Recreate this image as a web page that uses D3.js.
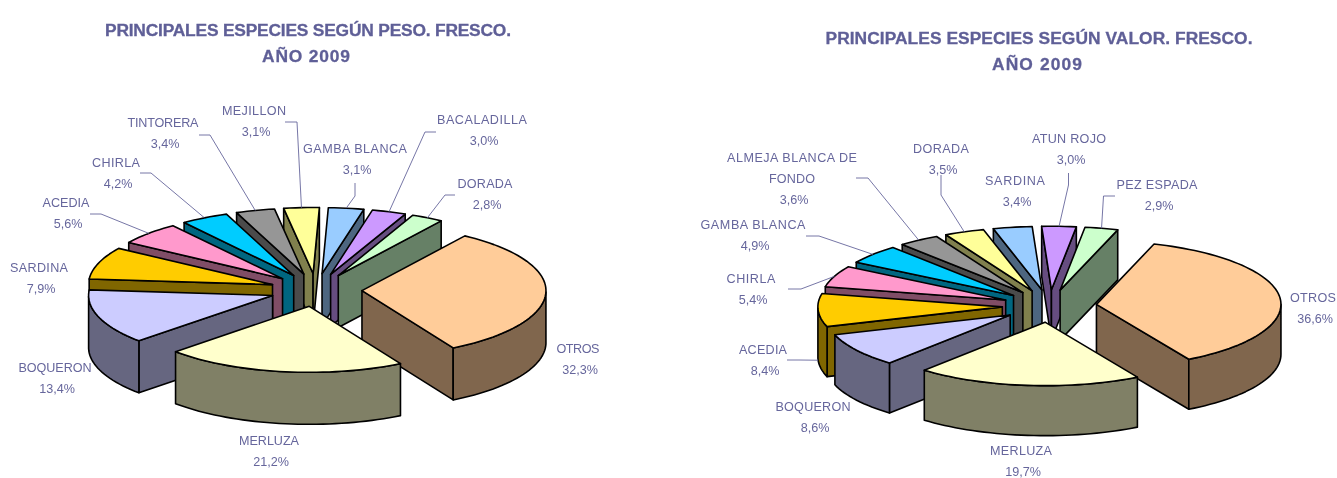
<!DOCTYPE html>
<html><head><meta charset="utf-8">
<script src="https://cdn.jsdelivr.net/npm/d3@7"></script>
<style>
html,body{margin:0;padding:0;background:#fff;overflow:hidden}
svg{display:block;filter:blur(.4px)}
.t{font-family:"Liberation Sans",Arial,sans-serif;font-weight:bold;font-size:17.4px;fill:#5f5f97;stroke:#5f5f97;stroke-width:.3;text-anchor:middle}
.l{font-family:"Liberation Sans",Arial,sans-serif;font-size:12.6px;fill:#66669c;text-anchor:middle}
.ld{fill:none;stroke:#66669c;stroke-width:.9}
.w{stroke:#000;stroke-width:1.6;stroke-linejoin:round}
</style></head><body>
<svg id="c" width="1337" height="478"></svg>
<script>
// ---- data ----
const pesoNames  = ["OTROS","MERLUZA","BOQUERON","SARDINA","ACEDIA","CHIRLA","TINTORERA","MEJILLON","GAMBA BLANCA","BACALADILLA","DORADA"];
const pesoValues = [32.3,21.2,13.4,7.9,5.6,4.2,3.4,3.1,3.1,3.0,2.8];
const valorNames  = ["OTROS","MERLUZA","BOQUERON","ACEDIA","CHIRLA","GAMBA BLANCA","ALMEJA BLANCA DE|FONDO","DORADA","SARDINA","ATUN ROJO","PEZ ESPADA"];
const valorValues = [36.6,19.7,8.6,8.4,5.4,4.9,3.6,3.5,3.4,3.0,2.9];
const topColors  = ["#FFCC99","#FFFFCC","#CCCCFF","#FFCC00","#FF99CC","#00CCFF","#969696","#FFFF99","#99CCFF","#CC99FF","#CCFFCC"];
const sideColors = ["#80664D","#808066","#666680","#806600","#804D66","#006680","#4B4B4B","#80804D","#4D6680","#664D80","#668066"];
const pesoTitle  = ["PRINCIPALES ESPECIES SEGÚN PESO. FRESCO.","AÑO 2009"];
const valorTitle = ["PRINCIPALES ESPECIES SEGÚN VALOR. FRESCO.","AÑO 2009"];

// ---- layout (kept apart from the data) ----
const pesoChart = {cx:316,cy:290,rx:184,ry:66,depth:52,explode:46,start:34,
  title:[[308,36,406],[306,62,88]],
  labels:[[578,353],[269,445],[55,372],[39,272],[66,207],[116,167],[163,127],[254,115],[355,153],[482,124],[485,188]],
  widths:[[43],[60],[73],[58],[47],[48],[71],[64],[104],[90],[55]],
  leaders:{4:[[90,214],[101,214]],5:[[140,173],[151,173]],6:[[199,135],[210,135]],7:[[285,122],[297,122]],8:[[355,183],[355,196]],9:[[436,132],[425,132]],10:[[455,195],[445,195]]}};
const valorChart = {cx:1049.5,cy:306,rx:184.5,ry:63.5,depth:50,explode:47.2,start:18.2,
  title:[[1039,44,427],[1037,70,90]],
  labels:[[1313,302],[1021,455],[813,411],[763,354],[751,283],[753,229],[792,162],[941,153],[1015,185],[1069,143],[1157,189]],
  widths:[[46],[62],[75],[48],[49],[105],[130,46],[56],[60],[74],[81]],
  leaders:{3:[[787,360],[799,360]],4:[[788,289],[801,289]],5:[[806,236],[819,236]],6:[[856,178],[868,178]],7:[[941,175],[941,195]],9:[[1068.5,173],[1068.5,185]],10:[[1115,196],[1103.5,196]]},
  leaderDrop:{3:1}};

const svg = d3.select("#c");
const line = d3.line();
const rad = d => d*Math.PI/180;
const fmt = v => v.toFixed(1).replace(".",",")+"%";

function draw(names, values, title, L){
  const g = svg.append("g");
  const pie = d3.pie().sort(null).startAngle(rad(L.start)).endAngle(rad(L.start)+2*Math.PI);
  const arcs = pie(values).map((a,i)=>{
    const s=a.startAngle-Math.PI/2, e=a.endAngle-Math.PI/2, m=(s+e)/2;
    const ax=L.cx+L.explode*Math.cos(m), ay=L.cy+L.explode*(L.ry/L.rx)*Math.sin(m);
    const rim=t=>[ax+L.rx*Math.cos(t), ay+L.ry*Math.sin(t)];
    return {i,s,e,m,ax,ay,rim};
  });
  const order = arcs.slice().sort((a,b)=>Math.sin(a.m)-Math.sin(b.m));
  order.forEach(a=>{
    const sl = g.append("g");
    const d=L.depth, n=Math.max(4,Math.ceil((a.e-a.s)/rad(2)));
    const pts=d3.range(n+1).map(k=>a.s+(a.e-a.s)*k/n);
    const wall=(t)=>{const p=a.rim(t);return [[a.ax,a.ay],p,[p[0],p[1]+d],[a.ax,a.ay+d]];};
    if(Math.sin(a.s-Math.PI/2)>0) sl.append("path").attr("class","w").attr("fill",sideColors[a.i]).attr("d",line(wall(a.s))+"Z");
    if(Math.cos(a.e)>0) sl.append("path").attr("class","w").attr("fill",sideColors[a.i]).attr("d",line(wall(a.e))+"Z");
    // outer wall: only the lower half of the ellipse can be seen
    const vis=pts.filter(t=>Math.sin(t)>=0);
    if(vis.length>1){
      const top=vis.map(a.rim), bot=top.map(p=>[p[0],p[1]+d]).reverse();
      sl.append("path").attr("class","w").attr("fill",sideColors[a.i]).attr("d",line(top.concat(bot))+"Z");
    }
    sl.append("path").attr("class","w").attr("fill",topColors[a.i]).attr("d",line([[a.ax,a.ay]].concat(pts.map(a.rim)))+"Z");
  });
  // leaders
  Object.keys(L.leaders).forEach(k=>{
    const a=arcs[+k], p=a.rim(a.m), dr=(L.leaderDrop&&L.leaderDrop[k])||0;
    g.append("path").attr("class","ld").attr("d",line(L.leaders[k].concat([[p[0],p[1]+dr*L.depth]])));
  });
  // labels
  names.forEach((nm,i)=>{
    const [x,y]=L.labels[i];
    nm.split("|").forEach((tx,j)=>g.append("text").attr("class","l").attr("x",x).attr("y",y+j*21)
      .attr("textLength",L.widths[i][j]).attr("lengthAdjust","spacing").text(tx));
    const nl=nm.split("|").length;
    g.append("text").attr("class","l").attr("x",x+2).attr("y",y+nl*21).text(fmt(values[i]));
  });
  title.forEach((tx,i)=>g.append("text").attr("class","t").attr("x",L.title[i][0]).attr("y",L.title[i][1])
    .attr("textLength",L.title[i][2]).attr("lengthAdjust","spacing").text(tx));
}
draw(pesoNames,pesoValues,pesoTitle,pesoChart);
draw(valorNames,valorValues,valorTitle,valorChart);
</script></body></html>
